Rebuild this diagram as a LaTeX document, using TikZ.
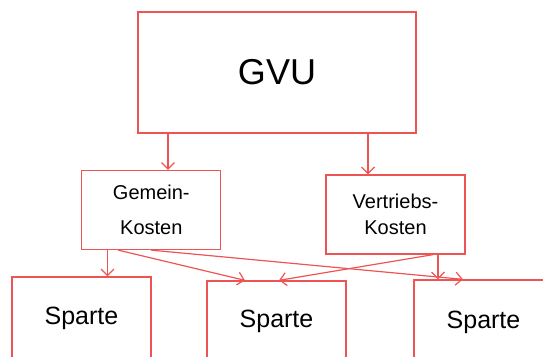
\documentclass[tikz,border=0pt]{standalone}
\usepackage{fontspec}
\setmainfont{Liberation Sans}
\usepackage{xcolor}
\usetikzlibrary{arrows.meta, positioning, calc}
\definecolor{gvured}{RGB}{238,84,84}

\begin{document}
\begin{tikzpicture}[
    x=1pt, y=-1pt,
    box/.style={draw=gvured, line width=1.3pt, inner sep=0pt, minimum width=139pt, align=center},
    arr/.style={draw=gvured, line width=1.2pt, -{Straight Barb[length=6.5pt, width=13pt, line width=1.2pt]}},
]
    \useasboundingbox (0,0) rectangle (543,356);
    \clip (0,0) rectangle (543,356);

    % Oberste Ebene
    \node[box, minimum width=278pt, minimum height=121pt, font=\fontsize{36}{40}\selectfont] (gvu) at (277,72.5) {GVU};

    % Kostenarten
    \node[box, minimum height=79pt, font=\fontsize{20}{35}\selectfont] (gemein) at (151.3,210) {Gemein-\\Kosten};
    \node[box, minimum height=79pt, font=\fontsize{20}{26}\selectfont] (vertrieb) at (395.5,214.5) {Vertriebs-\\Kosten};

    % Sparten
    \node[box, minimum height=82pt, font=\fontsize{25}{30}\selectfont] (sp1) at (81.5,318) {Sparte};
    \node[box, minimum height=80pt, font=\fontsize{25}{30}\selectfont] (sp2) at (276.5,321) {Sparte};
    \node[box, minimum height=84pt, font=\fontsize{25}{30}\selectfont] (sp3) at (483.5,322) {Sparte};

    % Verteilung GVU
    \draw[arr] ([xshift=16.7pt]gemein.north |- gvu.south) -- ([xshift=16.7pt]gemein.north);
    \draw[arr] ([xshift=-27.5pt]vertrieb.north |- gvu.south) -- ([xshift=-27.5pt]vertrieb.north);

    % Verteilung auf Sparten
    \draw[arr] ([xshift=26pt]sp1.north |- gemein.south) -- ([xshift=26pt]sp1.north);
    \draw[arr] ([xshift=-33pt]gemein.south) -- ([xshift=-31.5pt]sp2.north);
    \draw[arr] (gemein.south) -- ([xshift=-20.5pt]sp3.north);
    \draw[arr] ([xshift=37.5pt]vertrieb.south) -- ([xshift=2.5pt]sp2.north);
    \draw[arr] ([xshift=42.5pt]vertrieb.south) -- ([xshift=42.5pt]vertrieb.south |- sp3.north);
\end{tikzpicture}
\end{document}
